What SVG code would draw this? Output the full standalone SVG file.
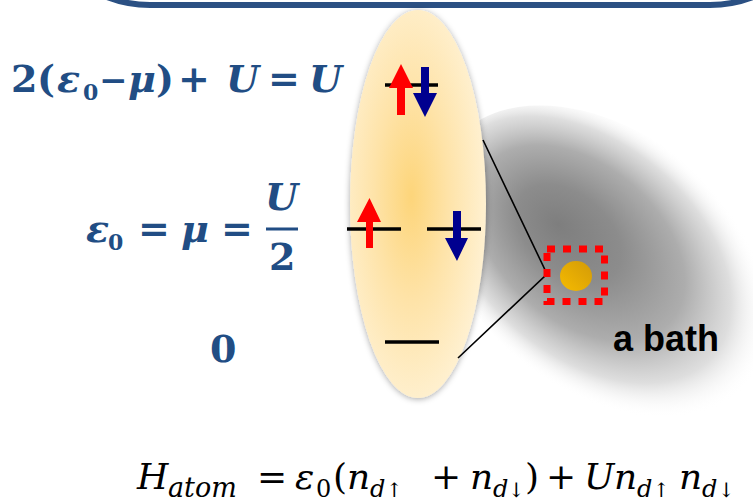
<svg xmlns="http://www.w3.org/2000/svg" width="753" height="503" viewBox="0 0 753 503">
  <style>
    .lbl { font-family: "DejaVu Serif", "Liberation Serif", serif; font-weight: bold; fill: #214d84; font-size: 38px; }
    .it { font-style: italic; }
    .sub { font-size: 22px; font-style: normal; }
    .ham { font-family: "DejaVu Serif", "Liberation Serif", serif; fill: #000; font-size: 36px; }
    .hi { font-style: italic; }
    .hs { font-size: 24px; }
    .ha { font-size: 20px; font-style: normal; }
    .lvl { stroke: #000; stroke-width: 3.5; }
    .up { fill: #ff0000; }
    .dn { fill: #00008f; }
    .conn { fill: none; stroke: #000; stroke-width: 1.6; }
    .bathtxt { font-family: "Liberation Sans", Arial, sans-serif; font-weight: bold; font-size: 36px; fill: #000; }
  </style>
  <defs>
    <radialGradient id="atomGrad" cx="0.45" cy="0.48" r="0.6">
      <stop offset="0" stop-color="#fdd57a"/>
      <stop offset="0.45" stop-color="#fee3a8"/>
      <stop offset="1" stop-color="#fff3d8"/>
    </radialGradient>
    <radialGradient id="bathGrad" cx="0.45" cy="0.5" r="0.5" fx="0.33" fy="0.5">
      <stop offset="0" stop-color="#7e7e7e"/>
      <stop offset="0.3" stop-color="#8c8c8c"/>
      <stop offset="0.6" stop-color="#adadad"/>
      <stop offset="0.82" stop-color="#d8d8d8" stop-opacity="0.85"/>
      <stop offset="1" stop-color="#ffffff" stop-opacity="0"/>
    </radialGradient>
    <linearGradient id="dotGrad" x1="0" y1="1" x2="1" y2="0">
      <stop offset="0" stop-color="#f6bb00"/>
      <stop offset="1" stop-color="#d29a08"/>
    </linearGradient>
    <filter id="shadow" x="-20%" y="-10%" width="140%" height="120%">
      <feGaussianBlur in="SourceAlpha" stdDeviation="3"/>
      <feOffset dx="0" dy="1" result="b"/>
      <feFlood flood-color="#000" flood-opacity="0.35"/>
      <feComposite in2="b" operator="in" result="s"/>
      <feMerge><feMergeNode in="s"/><feMergeNode in="SourceGraphic"/></feMerge>
    </filter>
  </defs>

  <rect width="753" height="503" fill="#ffffff"/>

  <!-- top frame -->
  <rect id="frame" x="30" y="-300" width="800" height="305" rx="120" fill="none" stroke="#2b5083" stroke-width="6"/>

  <!-- bath -->
  <g id="bath">
    <ellipse cx="0" cy="0" rx="200" ry="130" transform="translate(610,268) rotate(40)" fill="url(#bathGrad)"/>
  </g>

  <!-- atom -->
  <g id="atom">
    <ellipse cx="418" cy="204" rx="68" ry="194" fill="url(#atomGrad)" filter="url(#shadow)"/>
    <line class="lvl" x1="385" y1="85" x2="438" y2="85"/>
    <line class="lvl" x1="347" y1="229" x2="401" y2="229"/>
    <line class="lvl" x1="427" y1="229" x2="481" y2="229"/>
    <line class="lvl" x1="385" y1="342" x2="439" y2="342"/>
    <polygon class="up" points="397,115 405,115 405,88 413,88 401,64 389,88 397,88"/>
    <polygon class="dn" points="421,67 429,67 429,93 437,93 425,117 413,93 421,93"/>
    <polygon class="up" points="366,248 373,248 373,222 381,222 369.5,198 357,222 366,222"/>
    <polygon class="dn" points="453,211 461,211 461,238 468,238 457,261 445,238 453,238"/>
  </g>

  <!-- connectors -->
  <g id="connectors">
    <polyline class="conn" points="483,140 547,274 458,358"/>
  </g>

  <!-- impurity site -->
  <g id="site">
    <rect x="547" y="249" width="57.5" height="52.5" fill="none" stroke="#ff0000" stroke-width="7" stroke-dasharray="8 8"/>
    <ellipse cx="576" cy="276" rx="16" ry="15" fill="url(#dotGrad)"/>
  </g>

  <g id="bath-label">
    <text class="bathtxt" x="613" y="351">a bath</text>
  </g>

  <!-- level labels -->
  <g id="label-top">
    <text class="lbl" y="92"><tspan x="11">2</tspan><tspan x="37">(</tspan><tspan x="57" class="it">ε</tspan><tspan x="83" y="100" class="sub">0</tspan><tspan x="99" y="92" font-size="34">−</tspan><tspan x="128" class="it">μ</tspan><tspan x="156">)</tspan><tspan x="178">+</tspan><tspan x="226" class="it">U</tspan><tspan x="268">=</tspan><tspan x="309" class="it">U</tspan></text>
  </g>
  <g id="label-mid">
    <text class="lbl" y="242"><tspan x="86" class="it">ε</tspan><tspan x="108" y="250" class="sub">0</tspan><tspan x="138" y="242">=</tspan><tspan x="181" class="it">μ</tspan><tspan x="221">=</tspan></text>
    <text class="lbl it" x="265" y="210">U</text>
    <rect x="266" y="227.5" width="32" height="3" fill="#214d84"/>
    <text class="lbl" x="269" y="270">2</text>
  </g>
  <g id="label-bottom">
    <text class="lbl" x="210" y="362">0</text>
  </g>

  <!-- Hamiltonian -->
  <g id="hamiltonian">
    <text class="ham" y="489"><tspan x="137" class="hi">H</tspan><tspan x="168" y="497" class="hi" font-size="27">atom</tspan><tspan x="257" y="489">=</tspan><tspan x="295" class="hi">ε</tspan><tspan x="316" y="497" class="hs">0</tspan><tspan x="333" y="489">(</tspan><tspan x="347" class="hi">n</tspan><tspan x="370" y="497" class="hs hi">d</tspan><tspan x="386" class="ha">↑</tspan><tspan x="431" y="489">+</tspan><tspan x="470" class="hi">n</tspan><tspan x="493" y="497" class="hs hi">d</tspan><tspan x="508" class="ha">↓</tspan><tspan x="525" y="489">)</tspan><tspan x="546">+</tspan><tspan x="584" class="hi">U</tspan><tspan x="614" class="hi">n</tspan><tspan x="637" y="497" class="hs hi">d</tspan><tspan x="653" class="ha">↑</tspan><tspan x="679" y="489" class="hi">n</tspan><tspan x="702" y="497" class="hs hi">d</tspan><tspan x="718" class="ha">↓</tspan></text>
  </g>
</svg>
